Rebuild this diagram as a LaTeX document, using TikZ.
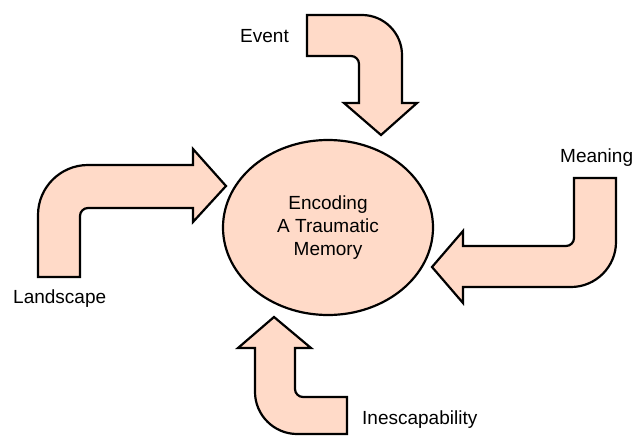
\documentclass[tikz,border=0pt]{standalone}
\usepackage{fontspec}
\setmainfont{Liberation Sans}
\usepackage{tikz}
\usetikzlibrary{shapes.geometric}
\definecolor{peach}{RGB}{255,218,200}

\begin{document}
\begin{tikzpicture}[x=1pt, y=-1pt,
    bent/.style={draw=black, fill=peach, line width=2.2pt, line join=miter},
    word/.style={font=\fontsize{19}{23}\selectfont, inner sep=0pt, anchor=base west}]
    \useasboundingbox (0, 0) rectangle (634, 436);

    % Centre
    \node [ellipse, bent, minimum width=210, minimum height=175, inner sep=0pt,
           align=center, font=\fontsize{19}{23}\selectfont] (memory) at (328, 227.5)
          {Encoding\\A Traumatic\\Memory};

    % Event (from the top)
    \draw [bent] (307, 15) -- (362, 15) .. controls (384, 15) and (402, 33) .. (402, 55)
        -- (402, 103) -- (417, 103) -- (381, 135) -- (344, 103) -- (359, 103) -- (359, 64)
        .. controls (359, 59.6) and (355.4, 56) .. (351, 56) -- (307, 56) -- cycle;

    % Landscape (from the left)
    \draw [bent] (38, 277) -- (38, 215) .. controls (38, 187.4) and (60.4, 165) .. (88, 165)
        -- (193, 165) -- (193, 149) -- (226, 186) -- (193, 222) -- (193, 208) -- (88, 208)
        .. controls (83.6, 208) and (80, 211.6) .. (80, 216) -- (80, 277) -- cycle;

    % Meaning (from the right)
    \draw [bent] (574, 178) -- (616, 178) -- (616, 242) .. controls (616, 266.8) and (595.8, 287) .. (571, 287)
        -- (463, 287) -- (463, 303) -- (432, 267) -- (463, 231) -- (463, 246) -- (566, 246)
        .. controls (570.4, 246) and (574, 242.4) .. (574, 238) -- cycle;

    % Inescapability (from below)
    \draw [bent] (274, 317) -- (311, 348) -- (295, 348) -- (295, 389)
        .. controls (295, 393.4) and (298.6, 397) .. (303, 397) -- (347, 397) -- (347, 434)
        -- (297, 434) .. controls (274, 434) and (255, 415) .. (255, 392) -- (255, 348)
        -- (238, 348) -- cycle;

    \node [word] (event) at (240, 43) {Event};
    \node [word] (landscape) at (13, 303) {Landscape};
    \node [word] (meaning) at (560, 162) {Meaning};
    \node [word] (inescapability) at (362, 424) {Inescapability};
  \end{tikzpicture}
\end{document}
